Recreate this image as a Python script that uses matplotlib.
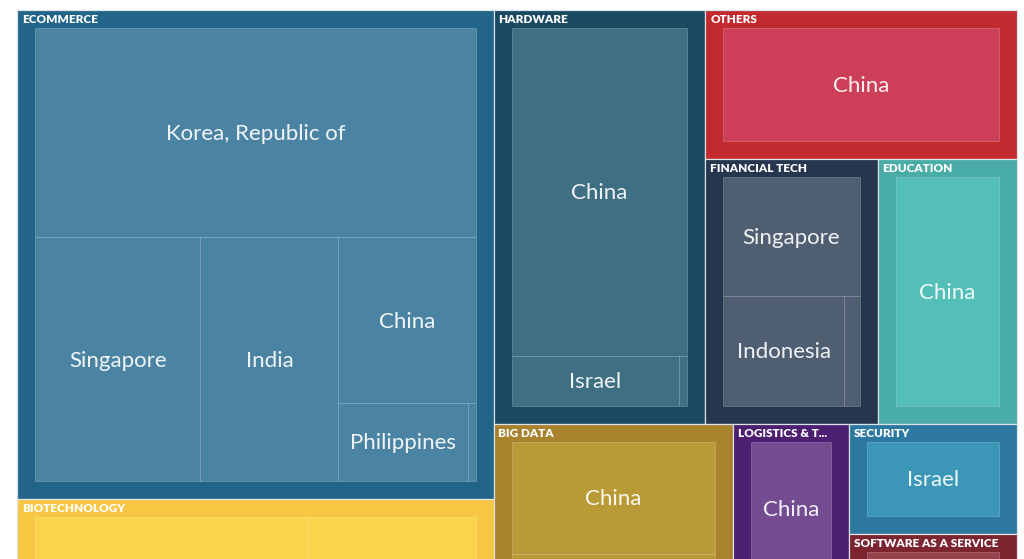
import matplotlib
matplotlib.use("Agg")
import matplotlib.pyplot as plt
from matplotlib.patches import Rectangle

# categories and the order they are split in (first item vs the rest)
categories = ["ECOMMERCE", "BIOTECHNOLOGY", "HARDWARE", "OTHERS", "FINANCIAL TECH",
              "EDUCATION", "BIG DATA", "LOGISTICS & TRANSPORTATION", "SECURITY",
              "SOFTWARE AS A SERVICE"]
category_tree = [["ECOMMERCE", "BIOTECHNOLOGY"],
                 [["HARDWARE", "OTHERS", "FINANCIAL TECH", "EDUCATION"],
                  ["BIG DATA", "LOGISTICS & TRANSPORTATION", "SECURITY", "SOFTWARE AS A SERVICE"]]]

# countries per category, with values
ecommerce_countries = ["Korea, Republic of", "Singapore", "India", "China", "Philippines", "Vietnam"]
ecommerce_values = [163.1, 71.2, 59.4, 40.0, 18.0, 1.0]
biotech_countries = ["China", "Singapore"]
biotech_values = [76.4, 47.4]
hardware_countries = ["China", "Israel", "Singapore"]
hardware_values = [115.2, 16.8, 0.8]
others_countries = ["China"]
others_values = [70.1]
fintech_countries = ["Singapore", "Indonesia", "India"]
fintech_values = [35.9, 29.5, 3.7]
education_countries = ["China"]
education_values = [56.0]
bigdata_countries = ["China", "Singapore"]
bigdata_values = [47.8, 41.8]
logistics_countries = ["China", "Indonesia"]
logistics_values = [27.4, 15.6]
security_countries = ["Israel"]
security_values = [28.1]
saas_countries = ["Israel"]
saas_values = [34.8]

parent_colors = ["#236489", "#f7c744", "#1a4a61", "#c22a30", "#26364f",
                 "#49aca6", "#a8822d", "#4c1f70", "#2c78a1", "#7d2431"]
child_colors = ["#4b84a3", "#fcd44a", "#3e6f82", "#cd3e58", "#505e72",
                "#53bfb8", "#b89a36", "#744c92", "#3b96b8", "#96434e"]

children = {
    "ECOMMERCE": (ecommerce_countries, ecommerce_values),
    "BIOTECHNOLOGY": (biotech_countries, biotech_values),
    "HARDWARE": (hardware_countries, hardware_values),
    "OTHERS": (others_countries, others_values),
    "FINANCIAL TECH": (fintech_countries, fintech_values),
    "EDUCATION": (education_countries, education_values),
    "BIG DATA": (bigdata_countries, bigdata_values),
    "LOGISTICS & TRANSPORTATION": (logistics_countries, logistics_values),
    "SECURITY": (security_countries, security_values),
    "SOFTWARE AS A SERVICE": (saas_countries, saas_values),
}


def total(node, value_of):
    if isinstance(node, list):
        return sum(total(n, value_of) for n in node)
    return value_of(node)


def partition(node, value_of, x0, y0, x1, y1, boxes):
    # binary split along the longer side, sizes proportional to values
    if not isinstance(node, list):
        boxes.append((node, x0, y0, x1, y1))
        return
    if len(node) == 1:
        partition(node[0], value_of, x0, y0, x1, y1, boxes)
        return
    head = node[0]
    tail = node[1] if len(node) == 2 else node[1:]
    va = total(head, value_of)
    f = va / (va + total(tail, value_of))
    if (x1 - x0) > (y1 - y0):
        xm = x0 + f * (x1 - x0)
        partition(head, value_of, x0, y0, xm, y1, boxes)
        partition(tail, value_of, xm, y0, x1, y1, boxes)
    else:
        ym = y0 + f * (y1 - y0)
        partition(head, value_of, x0, y0, x1, ym, boxes)
        partition(tail, value_of, x0, ym, x1, y1, boxes)


fig = plt.figure(figsize=(10.24, 5.59), dpi=100)
ax = fig.add_axes([0, 0, 1, 1])
ax.set_xlim(0, 1024)
ax.set_ylim(559, 0)
ax.axis("off")
renderer = fig.canvas.get_renderer()

px = 0.72  # one pixel in points
pad_l, pad_t, pad_r, pad_b = 18, 18, 18, 17.5

cat_boxes = []
partition(category_tree, lambda c: sum(children[c][1]), 17, 10, 1017, 670, cat_boxes)

for name, x0, y0, x1, y1 in cat_boxes:
    i = categories.index(name)
    ax.add_patch(Rectangle((x0, y0), x1 - x0, y1 - y0, facecolor=parent_colors[i],
                           edgecolor="#dde4e8", lw=1.2 * px))
    # children inside the padded area
    names, vals = children[name]
    kids = []
    partition(list(range(len(names))), lambda k: vals[k],
              x0 + pad_l, y0 + pad_t, x1 - pad_r, y1 - pad_b, kids)
    for k, cx0, cy0, cx1, cy1 in kids:
        ax.add_patch(Rectangle((cx0, cy0), cx1 - cx0, cy1 - cy0, facecolor=child_colors[i],
                               edgecolor=(1, 1, 1, 0.2), lw=1.0 * px))
        t = ax.text((cx0 + cx1) / 2, (cy0 + cy1) / 2 + 1.5, names[k], color="white",
                    alpha=0.92, fontsize=16, family="Lato", ha="center", va="center")
        bb = t.get_window_extent(renderer)
        too_big = bb.width > (cx1 - cx0) - 6 or bb.height > (cy1 - cy0) - 4
        # the view is a crop of a taller chart: skip labels that fall below it
        if too_big or bb.y0 < 0:
            t.remove()
    # category label, cut short if it does not fit
    label = name
    t = ax.text(x0 + 5, y0 + 9.5, label, color="white", fontsize=8.5, fontweight="heavy",
                family="Lato", ha="left", va="center")
    while t.get_window_extent(renderer).width > (x1 - x0) - 20 and len(label) > 1:
        label = label[:-1]
        t.set_text(label.rstrip() + "...")

fig.savefig("out.png", dpi=100, facecolor="white")
